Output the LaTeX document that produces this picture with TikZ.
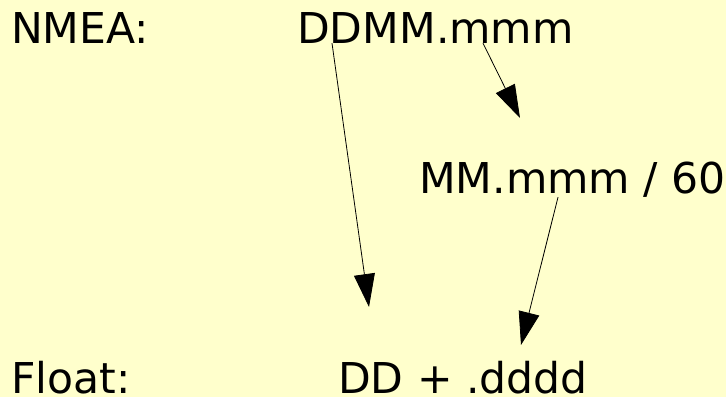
\documentclass[tikz,border=0pt]{standalone}
\usepackage{fontspec}
\setmainfont{DejaVu Sans}
\usetikzlibrary{arrows.meta}
\definecolor{bgyellow}{RGB}{255,255,204}
\tikzset{
  label text/.style={anchor=base west,inner sep=0pt,font=\fontsize{42.5}{50}\selectfont},
  conv arrow/.style={line width=0.8pt,-{Triangle[length=33pt,width=21pt]}}
}
\begin{document}
\begin{tikzpicture}[x=1pt,y=-1pt]
%background
\fill [bgyellow] (0,0) rectangle (726,397);
\useasboundingbox (0,0) rectangle (726,397);

% Text Node
\node [label text] (nmea) at (11,43) {NMEA:};
% Text Node
\node [label text] (ddmm) at (297,43) {DDMM.mmm};
% Text Node
\node [label text] (mmdiv) at (419,193) {MM.mmm / 60};
% Text Node
\node [label text] (float) at (11,393) {Float:};
% Text Node
\node [label text] (ddsum) at (338,393) {DD + .dddd};

%arrow tips
\coordinate (tipdd) at (369,307);
\coordinate (tipmm) at (520,118);
\coordinate (tipfrac) at (521,345);

%Straight Lines
\draw [conv arrow] ([xshift=35pt]ddmm.south west) -- (tipdd);
%Straight Lines
\draw [conv arrow] ([xshift=186pt]ddmm.south west) -- (tipmm);
%Straight Lines
\draw [conv arrow] ([xshift=139pt]mmdiv.south west) -- (tipfrac);

\end{tikzpicture}
\end{document}
